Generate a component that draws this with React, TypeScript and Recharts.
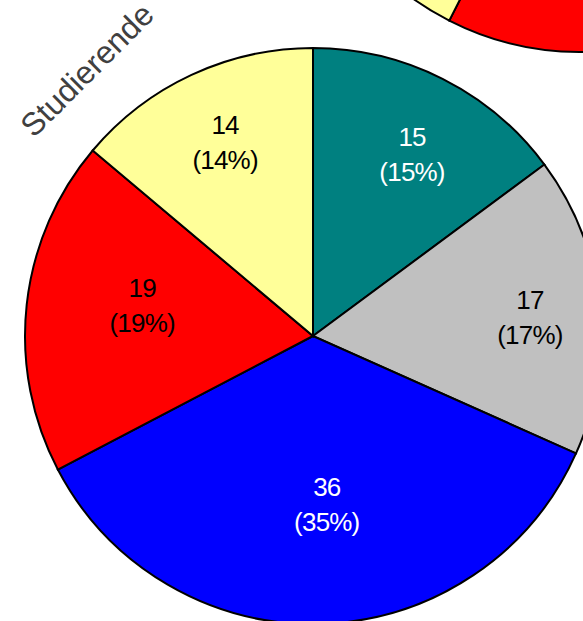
import { PieChart, Pie, Cell } from 'recharts';

// Studierende (main pie), clockwise from 12 o'clock
const categories = ['Teal', 'Grau', 'Blau', 'Rot', 'Gelb'];
const studierende = [15, 17, 36, 19, 14];
const studierendePct = ['15%', '17%', '35%', '19%', '14%'];

// neighbouring pie, only partly visible at the top right
const otherGroup = [9, 13, 19, 16.5, 42.5];

const colors = ['#008080', '#C0C0C0', '#0000FF', '#FF0000', '#FFFF99'];
const textColors = ['#FFFFFF', '#000000', '#FFFFFF', '#000000', '#000000'];
// label placement (Excel best-fit look): share of radius, and angle nudge in degrees (clockwise)
const labelRadius = [0.72, 0.756, 0.587, 0.603, 0.74];
const labelNudge = [1.8, 1.3, -2.9, 4.1, 0.6];

const RAD = Math.PI / 180;

const mainData = categories.map((name, i) => ({ name, value: studierende[i] }));
const otherData = categories.map((name, i) => ({ name, value: otherGroup[i] }));

const renderLabel = (props: any) => {
  const { cx, cy, midAngle, outerRadius, index, value } = props;
  const r = outerRadius * labelRadius[index];
  const a = -(midAngle - labelNudge[index]) * RAD;
  const x = cx + r * Math.cos(a);
  const y = cy + r * Math.sin(a);
  return (
    <text
      x={x}
      y={y}
      textAnchor="middle"
      fill={textColors[index]}
      fontSize={26}
      letterSpacing={-0.8}
      fontFamily="'Liberation Sans', Arial, sans-serif"
    >
      <tspan x={x} dy={-8}>{value}</tspan>
      <tspan x={x} dy={35}>({studierendePct[index]})</tspan>
    </text>
  );
};

export default function App() {
  return (
    <div style={{ position: 'absolute', left: 0, top: 0, width: 583, height: 621, background: '#fff', overflow: 'hidden' }}>
      <PieChart width={583} height={621} margin={{ top: 0, right: 0, bottom: 0, left: 0 }}>
        <Pie
          data={otherData}
          dataKey="value"
          cx={580}
          cy={-236}
          outerRadius={288}
          startAngle={90}
          endAngle={-270}
          stroke="#000"
          strokeWidth={2}
          isAnimationActive={false}
        >
          {otherData.map((d, i) => (
            <Cell key={d.name} fill={colors[i]} />
          ))}
        </Pie>
        <Pie
          data={mainData}
          dataKey="value"
          cx={313}
          cy={336}
          outerRadius={288}
          startAngle={90}
          endAngle={-270}
          stroke="#000"
          strokeWidth={2}
          label={renderLabel}
          labelLine={false}
          isAnimationActive={false}
        >
          {mainData.map((d, i) => (
            <Cell key={d.name} fill={colors[i]} />
          ))}
        </Pie>
        <text
          x={87}
          y={70}
          textAnchor="middle"
          dominantBaseline="central"
          transform="rotate(-45 87 70)"
          fontSize={32}
          fill="#404040"
          fontFamily="'Liberation Sans', Arial, sans-serif"
        >
          Studierende
        </text>
      </PieChart>
    </div>
  );
}
